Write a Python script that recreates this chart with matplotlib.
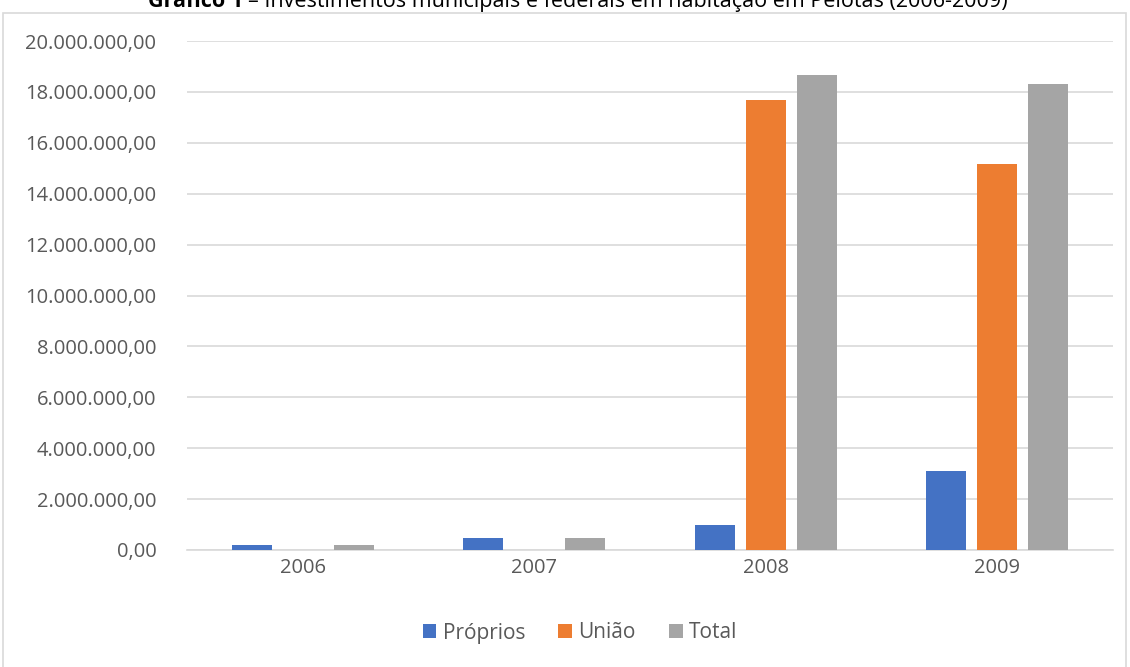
import matplotlib.pyplot as plt
import numpy as np
from matplotlib.patches import Rectangle
from matplotlib.ticker import FuncFormatter

# Dados (valores em R$)
anos = ['2006', '2007', '2008', '2009']
proprios = [200000, 490000, 970000, 3120000]
uniao = [0, 0, 17680000, 15160000]
total = [200000, 490000, 18650000, 18300000]

series = [('Próprios', proprios, '#4472C4'),
          ('União', uniao, '#ED7D31'),
          ('Total', total, '#A5A5A5')]

plt.rcParams['font.family'] = ['Open Sans', 'DejaVu Sans']

fig = plt.figure(figsize=(11.3, 6.67), dpi=100)
ax = fig.add_axes([187 / 1130, 1 - 550 / 667, 926 / 1130, 509 / 667])

x = np.arange(len(anos))
largura = 0.173
passo = 0.22
for i, (nome, valores, cor) in enumerate(series):
    ax.bar(x + (i - 1) * passo, valores, largura, color=cor, label=nome, zorder=3)

# Formato brasileiro dos números
def formato_br(v, pos):
    s = f"{v:,.2f}"
    return s.replace(",", "X").replace(".", ",").replace("X", ".")

ax.set_ylim(0, 20000000)
ax.set_yticks(np.arange(0, 20000001, 2000000))
ax.yaxis.set_major_formatter(FuncFormatter(formato_br))
ax.set_xlim(-0.5, 3.5)
ax.set_xticks(x)
ax.set_xticklabels(anos)

ax.grid(axis='y', color='#D9D9D9', linewidth=1.2, zorder=0)
for lado in ['top', 'right', 'left']:
    ax.spines[lado].set_visible(False)
ax.spines['bottom'].set_color('#D9D9D9')
ax.spines['bottom'].set_linewidth(1.2)
ax.tick_params(axis='both', length=0, labelsize=14.5, labelcolor='#595959')
ax.tick_params(axis='y', pad=22)
ax.tick_params(axis='x', pad=6)

# Legenda
fig.legend(loc='center', bbox_to_anchor=(580 / 1130, 1 - 633 / 667), ncol=3,
           frameon=False, fontsize=15, labelcolor='#595959',
           handlelength=0.65, handleheight=0.65, handletextpad=0.3, columnspacing=1.6)

# Moldura do gráfico
fig.patches.append(Rectangle((3 / 1130, -0.02), 1123 / 1130, 1.02 - 13 / 667,
                             transform=fig.transFigure, fill=False,
                             edgecolor='#D9D9D9', linewidth=1.2))

# Título (cortado no topo, como no original)
t1 = fig.text(148 / 1130, 1 - 7 / 667, 'Gráfico 1', fontsize=15.5, fontweight='bold',
              ha='left', va='baseline')
fig.canvas.draw()
bb = t1.get_window_extent()
fig.text(bb.x1 / 1130 + 0.004, 1 - 7 / 667,
         '– Investimentos municipais e federais em habitação em Pelotas (2006-2009)',
         fontsize=15.5, ha='left', va='baseline')

fig.savefig('out.png', dpi=100)
